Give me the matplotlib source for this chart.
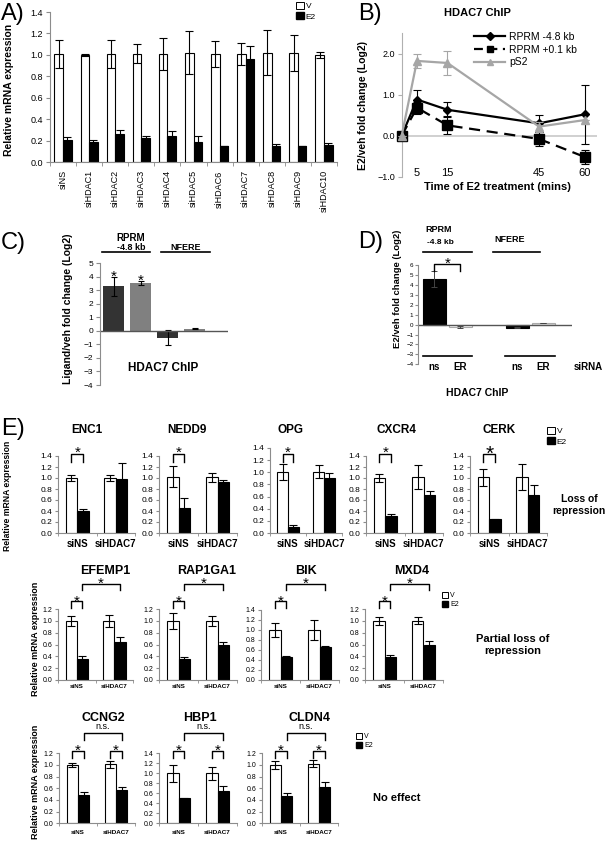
import numpy as np
import matplotlib
matplotlib.use('Agg')
import matplotlib.pyplot as plt
from matplotlib.patches import Patch
from matplotlib.lines import Line2D
from matplotlib import transforms

plt.rcParams['font.family'] = ['Liberation Sans', 'DejaVu Sans']

W, H = 608, 842
GREY = '#8c8c8c'

# ---------------- data ----------------
# A) siRNA screen
a_cats = ['siNS', 'siHDAC1', 'siHDAC2', 'siHDAC3', 'siHDAC4', 'siHDAC5',
          'siHDAC6', 'siHDAC7', 'siHDAC8', 'siHDAC9', 'siHDAC10']
a_v = [1.01, 1.00, 1.01, 1.01, 1.01, 1.02, 1.01, 1.01, 1.02, 1.02, 1.00]
a_v_err = [0.13, 0.01, 0.13, 0.09, 0.15, 0.20, 0.12, 0.10, 0.21, 0.17, 0.03]
a_e2 = [0.21, 0.19, 0.26, 0.22, 0.24, 0.19, 0.15, 0.96, 0.15, 0.15, 0.16]
a_e2_err = [0.02, 0.02, 0.04, 0.02, 0.05, 0.05, 0.0, 0.12, 0.02, 0.0, 0.02]

# B) time course
b_time = [0, 5, 15, 45, 60]
b_rprm48 = [0.0, 0.88, 0.63, 0.30, 0.52]
b_rprm48_err = [0.0, 0.22, 0.18, 0.20, 0.72]
b_rprm01 = [0.0, 0.68, 0.25, -0.08, -0.52]
b_rprm01_err = [0.0, 0.15, 0.22, 0.18, 0.18]
b_ps2 = [0.0, 1.82, 1.77, 0.22, 0.38]
b_ps2_err = [0.0, 0.17, 0.30, 0.12, 0.0]

# C) ligand ChIP
c_vals = [3.3, 3.55, -0.5, 0.15]
c_err = [0.7, 0.15, 0.55, 0.03]

# D) siRNA ChIP
d_labels = ['ns', 'ER', 'ns', 'ER']
d_vals = [4.55, -0.25, -0.3, 0.15]
d_err = [0.8, 0.08, 0.08, 0.03]

# E) target genes, values for [siNS, siHDAC7]
e_genes = ['ENC1', 'NEDD9', 'OPG', 'CXCR4', 'CERK',
           'EFEMP1', 'RAP1GA1', 'BIK', 'MXD4',
           'CCNG2', 'HBP1', 'CLDN4']
e_cats = ['siNS', 'siHDAC7']
e_v = [[1.0, 1.0], [1.02, 1.01], [1.01, 1.01], [1.0, 1.02], [1.01, 1.02],
       [1.0, 1.0], [1.0, 1.0], [1.01, 1.01], [1.0, 1.0],
       [1.0, 1.01], [1.0, 1.0], [1.0, 1.02]]
e_v_err = [[0.05, 0.06], [0.19, 0.08], [0.13, 0.11], [0.08, 0.22], [0.15, 0.24],
           [0.08, 0.10], [0.13, 0.08], [0.14, 0.20], [0.07, 0.06],
           [0.04, 0.06], [0.17, 0.13], [0.07, 0.06]]
e_e2 = [[0.40, 0.99], [0.45, 0.92], [0.10, 0.90], [0.31, 0.70], [0.25, 0.70],
        [0.36, 0.64], [0.35, 0.60], [0.46, 0.66], [0.39, 0.60],
        [0.48, 0.57], [0.50, 0.65], [0.47, 0.62]]
e_e2_err = [[0.04, 0.29], [0.19, 0.05], [0.03, 0.09], [0.03, 0.07], [0.01, 0.17],
            [0.04, 0.09], [0.04, 0.04], [0.02, 0.03], [0.03, 0.06],
            [0.05, 0.05], [0.01, 0.10], [0.05, 0.08]]
e_ymax = [1.4, 1.4, 1.4, 1.4, 1.4, 1.2, 1.2, 1.4, 1.2, 1.2, 1.4, 1.2]
e_row = [0, 0, 0, 0, 0, 1, 1, 1, 1, 2, 2, 2]
# significance per row: (siNS pair, siHDAC7 pair, siNS E2 vs siHDAC7 E2)
e_sig = [('*', '', ''), ('*', '', '*'), ('*', '*', 'n.s.')]
e_effect = ['Loss of\nrepression', 'Partial loss of\nrepression', 'No effect']

# ---------------- layout (pixels) ----------------
fig = plt.figure(figsize=(W / 100, H / 100), dpi=100)


def fy(y):
    return 1 - y / H


def fig_ax(x0, y0, x1, y1):
    return fig.add_axes([x0 / W, fy(y1), (x1 - x0) / W, (y1 - y0) / H])


def ftext(x, y, s, **kw):
    kw.setdefault('ha', 'center')
    kw.setdefault('va', 'center')
    fig.text(x / W, fy(y), s, **kw)


def blend(ax):
    return transforms.blended_transform_factory(ax.transData, fig.transFigure)


def star(ax, x, yc, s='*', fs=11, weight='normal'):
    # yc: pixel row of the glyph centre
    base = yc + (0.575 if s == '*' else 0.27) * fs * 100 / 72
    ax.text(x, fy(base), s, transform=blend(ax), ha='center', va='baseline',
            fontsize=fs, fontweight=weight, clip_on=False)


def bracket(ax, x0, x1, ytop, yleg):
    ax.plot([x0, x0, x1, x1], [fy(yleg), fy(ytop), fy(ytop), fy(yleg)],
            color='black', lw=1.0, transform=blend(ax), clip_on=False)


def grey_axes(ax, bottom=True):
    for s in ['top', 'right']:
        ax.spines[s].set_visible(False)
    ax.spines['left'].set_color(GREY)
    ax.spines['left'].set_linewidth(0.8)
    if bottom:
        ax.spines['bottom'].set_color(GREY)
        ax.spines['bottom'].set_linewidth(0.8)
    else:
        ax.spines['bottom'].set_visible(False)


ekw = dict(lw=0.8, capthick=0.8, ecolor='black')

# ---------------- A ----------------
ax = fig_ax(50, 12, 337, 162)
x = np.arange(len(a_cats))
bw = 0.33
ax.bar(x - bw / 2, a_v, bw, color='white', edgecolor='black', lw=0.8,
       yerr=a_v_err, capsize=3, error_kw=ekw)
ax.bar(x + bw / 2, a_e2, bw, color='black', edgecolor='black', lw=0.8,
       yerr=a_e2_err, capsize=3, error_kw=ekw)
ax.set_xlim(-0.5, len(a_cats) - 0.5)
ax.set_ylim(0, 1.4)
ax.set_yticks(np.arange(0, 1.41, 0.2))
ax.yaxis.set_major_formatter('{x:.1f}')
ax.set_xticks(x)
ax.set_xticklabels(a_cats, rotation=90, fontsize=6.5)
ax.set_xticks(np.arange(-0.5, len(a_cats), 1), minor=True)
ax.tick_params(axis='x', which='major', length=0, pad=6)
ax.tick_params(axis='x', which='minor', length=3, color=GREY)
ax.tick_params(axis='y', length=3, color=GREY, labelsize=6.5, pad=2)
grey_axes(ax)
ftext(9, 90, 'Relative mRNA expression', rotation=90, fontsize=7.5, fontweight='bold')
fig.legend(handles=[Patch(facecolor='white', edgecolor='black', lw=0.7),
                    Patch(facecolor='black', edgecolor='black')],
           labels=['V', 'E2'], loc='upper left', bbox_to_anchor=(296 / W, fy(2)),
           frameon=False, fontsize=6, handlelength=0.9, handleheight=0.9,
           handletextpad=0.25, labelspacing=0.25, borderpad=0, borderaxespad=0)

# ---------------- B ----------------
ax = fig_ax(401.7, 33, 597, 176.7)
ax.set_xlim(0, 64)
ax.set_ylim(-1, 2.5)
ax.axhline(0, color='#c8c8c8', lw=1.2, zorder=0)
ax.errorbar(b_time, b_rprm48, yerr=b_rprm48_err, color='black', lw=1.6,
            marker='D', ms=4, capsize=3, elinewidth=0.8, capthick=0.8, clip_on=False, zorder=3)
ax.errorbar(b_time, b_rprm01, yerr=b_rprm01_err, color='black', lw=1.6, ls=(0, (5, 3)),
            marker='s', ms=7, capsize=3, elinewidth=0.8, capthick=0.8, clip_on=False, zorder=3)
ax.errorbar(b_time, b_ps2, yerr=b_ps2_err, color='#a6a6a6', lw=1.6,
            marker='^', ms=6, capsize=3, elinewidth=0.8, capthick=0.8, clip_on=False, zorder=4)
ax.set_xticks([5, 15, 45, 60])
ax.tick_params(axis='x', length=0, labelsize=8, pad=-6.5)
ax.set_yticks([-1, 0, 1, 2])
ax.yaxis.set_major_formatter('{x:.1f}')
ax.tick_params(axis='y', length=3, color='#b0b0b0', labelsize=6.5, pad=2)
grey_axes(ax, bottom=False)
ax.spines['left'].set_color('#b0b0b0')
ftext(477, 13, 'HDAC7 ChIP', fontsize=8, fontweight='bold')
ftext(497, 187, 'Time of E2 treatment (mins)', fontsize=8, fontweight='bold')
ftext(363, 106, 'E2/veh fold change (Log2)', rotation=90, fontsize=7.5, fontweight='bold')
fig.legend(handles=[Line2D([], [], color='black', lw=1.6, marker='D', ms=4),
                    Line2D([], [], color='black', lw=1.6, ls=(0, (4, 2.5)), marker='s', ms=5),
                    Line2D([], [], color='#a6a6a6', lw=1.6, marker='^', ms=5)],
           labels=['RPRM -4.8 kb', 'RPRM +0.1 kb', 'pS2'], loc='upper left',
           bbox_to_anchor=(474 / W, fy(32)), frameon=False, fontsize=7.5,
           handlelength=3.0, handletextpad=0.4, labelspacing=0.25,
           borderpad=0, borderaxespad=0)

# ---------------- C ----------------
ax = fig_ax(100, 263.3, 228, 385)
pos = np.arange(len(c_vals))
ax.bar(pos, c_vals, 0.78, color=['#333333', '#808080', '#333333', '#808080'],
       yerr=c_err, capsize=2.5, error_kw=ekw)
ax.set_xlim(-0.5, 4.24)
ax.set_ylim(-4, 5)
ax.axhline(0, color='#555555', lw=1)
ax.set_xticks([])
ax.set_yticks(range(-4, 6))
ax.tick_params(axis='y', length=3, color=GREY, labelsize=6, pad=2)
grey_axes(ax, bottom=False)
for i in [0, 1]:
    yc = ax.transData.transform((pos[i], c_vals[i] + c_err[i]))[1]
    star(ax, pos[i], H - yc - 5, fs=11)
tb = blend(ax)
ax.plot([-0.43, 1.35], [fy(252)] * 2, color='black', lw=1.2, transform=tb, clip_on=False)
ax.plot([1.76, 3.57], [fy(252)] * 2, color='black', lw=1.2, transform=tb, clip_on=False)
ftext(131, 238, 'RPRM', fontsize=7, fontweight='bold')
ftext(131, 248, '-4.8 kb', fontsize=6.5, fontweight='bold')
ftext(186, 247, 'NFERE', fontsize=6.5, fontweight='bold')
ftext(163, 368, 'HDAC7 ChIP', fontsize=8.5, fontweight='bold')
ftext(68, 309, 'Ligand/veh fold change (Log2)', rotation=90, fontsize=7.5, fontweight='bold')

# ---------------- D ----------------
ax = fig_ax(418.3, 265, 572, 364.3)
pos_d = np.array([0, 1, 3.2, 4.2])
ax.bar(pos_d, d_vals, 0.9, color=['black', 'white', 'black', '#dcdcdc'],
       edgecolor=['black', '#aaaaaa', 'black', '#aaaaaa'], lw=0.8,
       yerr=d_err, capsize=2, error_kw=dict(lw=0.7, capthick=0.7, ecolor='#444444'))
ax.set_xlim(-0.62, 5.3)
ax.set_ylim(-4, 6)
ax.axhline(0, color='#555555', lw=1)
ax.set_xticks([])
ax.set_yticks(range(-4, 7))
ax.tick_params(axis='y', length=2, color=GREY, labelsize=4.5, pad=1.5)
grey_axes(ax, bottom=False)
bracket(ax, pos_d[0], pos_d[1], 264, 271)
star(ax, (pos_d[0] + pos_d[1]) / 2, 259, fs=11)
tb = blend(ax)
ax.plot([-0.42, 1.46], [fy(252)] * 2, color='black', lw=1.2, transform=tb, clip_on=False)
ax.plot([2.27, 4.08], [fy(252)] * 2, color='black', lw=1.2, transform=tb, clip_on=False)
ax.plot([-0.42, 1.46], [fy(356)] * 2, color='black', lw=1.2, transform=tb, clip_on=False)
ax.plot([2.73, 4.65], [fy(356)] * 2, color='black', lw=1.2, transform=tb, clip_on=False)
for p, lab in zip(pos_d, d_labels):
    ax.text(p, fy(367), lab, transform=tb, ha='center', va='center',
            fontsize=7, fontweight='bold')
ftext(588, 367, 'siRNA', fontsize=7, fontweight='bold')
ftext(439, 230, 'RPRM', fontsize=6.5, fontweight='bold')
ftext(440, 242, '-4.8 kb', fontsize=6, fontweight='bold')
ftext(510, 240, 'NFERE', fontsize=6.5, fontweight='bold')
ftext(477, 393, 'HDAC7 ChIP', fontsize=7.5, fontweight='bold')
ftext(397, 289, 'E2/veh fold change (Log2)', rotation=90, fontsize=6.8, fontweight='bold')

# ---------------- E ----------------
e_box = [(58, 456, 135, 533), (159, 456, 237, 533), (270, 448, 342, 533),
         (366, 456, 443, 533), (470, 456, 547, 533),
         (58, 609, 133, 680), (159, 609, 237, 680), (261, 610, 339, 680),
         (365, 609, 443, 680),
         (59, 753.3, 135, 823.3), (159, 753.3, 237, 823.3), (262, 753.3, 338, 823.3)]
e_title_x = [87, 187, 290, 396, 499, 105, 207, 306, 412, 103, 200, 310]
row_title_y = [430, 571, 718]
row_title_fs = [8.5, 9, 9]
row_tick_fs = [6, 5, 5]
row_lab_fs = [7, 4.5, 4.5]
row_lab_pad = [4, 3, 5]
# bracket rows: (small top, small leg, star), (big top, big leg, mark)
row_small = [(454, 462, 448), (601, 608, 596.5), (751, 757.7, 745.5)]
row_big = [None, (583.5, 590, 578.5), (733.3, 740, 727)]

for k, gene in enumerate(e_genes):
    r = e_row[k]
    x0, y0, x1, y1 = e_box[k]
    ax = fig_ax(x0, y0, x1, y1)
    g = np.arange(len(e_cats))
    bw = 0.3
    ax.bar(g - bw / 2, e_v[k], bw, color='white', edgecolor='black', lw=0.8,
           yerr=e_v_err[k], capsize=3, error_kw=ekw)
    ax.bar(g + bw / 2, e_e2[k], bw, color='black', edgecolor='black', lw=0.8,
           yerr=e_e2_err[k], capsize=3, error_kw=ekw)
    ax.set_xlim(-0.3 if gene == 'OPG' else -0.5, 1.5)
    ax.set_ylim(0, e_ymax[k])
    ax.set_yticks(np.arange(0, e_ymax[k] + 0.01, 0.2))
    ax.yaxis.set_major_formatter('{x:.1f}')
    ax.set_xticks(g)
    ax.set_xticklabels(e_cats, fontsize=row_lab_fs[r], fontweight='bold')
    ax.set_xticks([-0.5, 0.5, 1.5], minor=True)
    ax.tick_params(axis='x', which='major', length=0, pad=row_lab_pad[r])
    ax.tick_params(axis='x', which='minor', length=2.5, color=GREY)
    ax.tick_params(axis='y', length=2.5, color=GREY, labelsize=row_tick_fs[r], pad=1.5)
    grey_axes(ax)
    ftext(e_title_x[k], row_title_y[r], gene, fontsize=row_title_fs[r], fontweight='bold')

    s_ns, s_h7, s_big = e_sig[r]
    top, leg, sy = row_small[r]
    sfs = 15 if gene == 'CERK' else 11
    bracket(ax, g[0] - bw / 2, g[0] + bw / 2, top, leg)
    star(ax, g[0], sy, s_ns, fs=sfs)
    if s_h7:
        bracket(ax, g[1] - bw / 2, g[1] + bw / 2, top, leg)
        star(ax, g[1], sy, s_h7, fs=sfs)
    if s_big:
        btop, bleg, by = row_big[r]
        bracket(ax, g[0] + bw / 2, g[1] + bw / 2, btop, bleg)
        if s_big == '*':
            star(ax, 0.5 + bw / 2, by, s_big, fs=11)
        else:
            star(ax, 0.5 + bw / 2, by, s_big, fs=6.5)

# row legends, y labels and effect text
leg_anchor = [(547, 427), (442, 592), (356, 733)]
leg_fs = [6, 5, 5]
ylab_xy = [(8, 496), (35, 639), (35, 782)]
effect_xy = [(579, 505), (513, 645), (397, 798)]
for r in range(3):
    fig.legend(handles=[Patch(facecolor='white', edgecolor='black', lw=0.7),
                        Patch(facecolor='black', edgecolor='black')],
               labels=['V', 'E2'], loc='upper left',
               bbox_to_anchor=(leg_anchor[r][0] / W, fy(leg_anchor[r][1])),
               frameon=False, fontsize=leg_fs[r], handlelength=0.9, handleheight=0.9,
               handletextpad=0.25, labelspacing=0.25, borderpad=0, borderaxespad=0)
    ftext(*ylab_xy[r], 'Relative mRNA expression', rotation=90,
          fontsize=6.2 if r == 0 else 6.5, fontweight='bold')
    ftext(*effect_xy[r], e_effect[r], fontsize=7.5 if r == 0 else 8,
          fontweight='bold', linespacing=1.2)

# panel letters
for lab, (lx, ly) in zip(['A)', 'B)', 'C)', 'D)', 'E)'],
                         [(1, 20), (358, 20), (1, 249), (358, 248), (1, 435)]):
    fig.text(lx / W, fy(ly), lab, fontsize=17, ha='left', va='baseline')

fig.savefig('out.png', dpi=100)
